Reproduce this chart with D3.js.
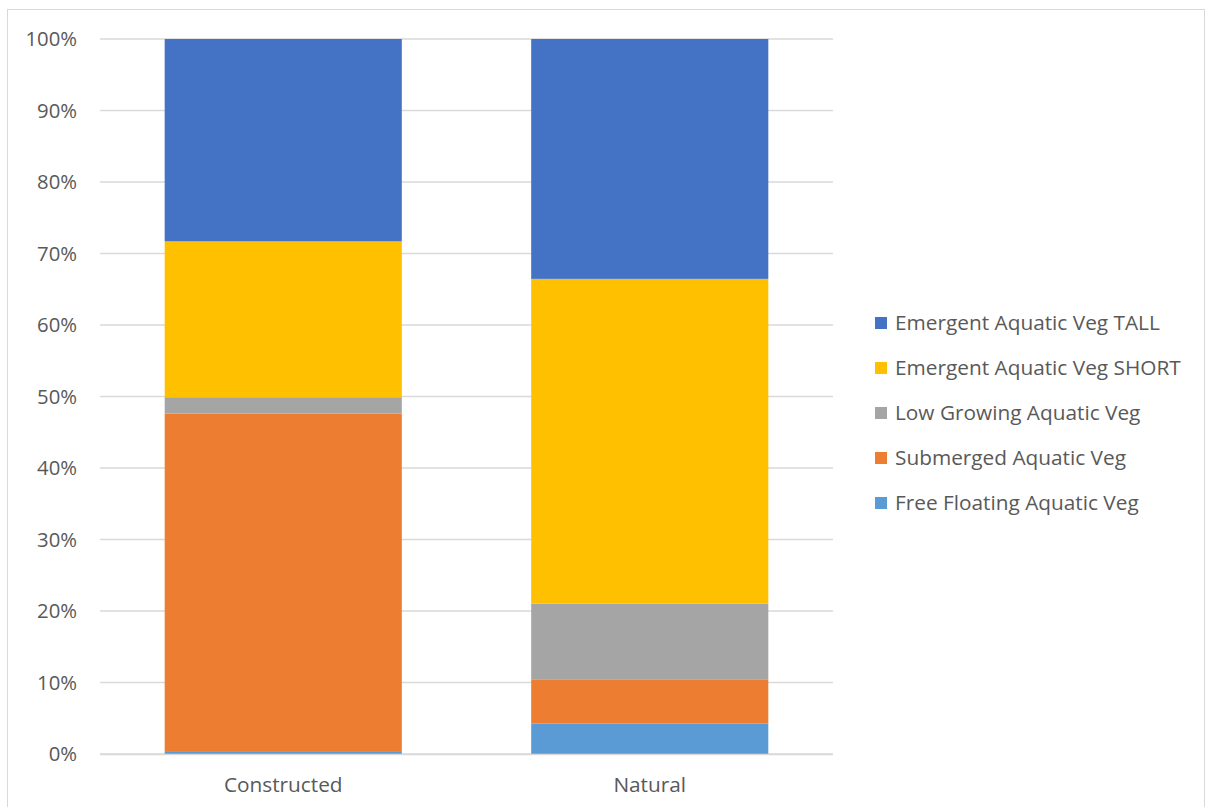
<!DOCTYPE html>
<html><head><meta charset="utf-8">
<script src="https://cdn.jsdelivr.net/npm/d3@7"></script>
<style>body{margin:0;background:#fff}svg{display:block}</style>
</head><body>
<script>
const categories = ["Constructed", "Natural"];
const seriesNames = ["Free Floating Aquatic Veg", "Submerged Aquatic Veg", "Low Growing Aquatic Veg", "Emergent Aquatic Veg SHORT", "Emergent Aquatic Veg TALL"];
const freeFloating = [0.4, 4.25];
const submerged = [47.2, 6.2];
const lowGrowing = [2.3, 10.6];
const emergentShort = [21.8, 45.4];
const emergentTall = [28.3, 33.55];
const colors = ["#5B9BD5", "#ED7D31", "#A5A5A5", "#FFC000", "#4472C4"];
const yTicks = [0, 10, 20, 30, 40, 50, 60, 70, 80, 90, 100];

const W = 1205, H = 807;
const font = "'Open Sans', 'Liberation Sans', sans-serif";
const textColor = "#595959";
const svg = d3.select("body").append("svg").attr("width", W).attr("height", H);
svg.append("rect").attr("x", 7.5).attr("y", 9.5).attr("width", W - 8).attr("height", H).attr("fill", "none").attr("stroke", "#d9d9d9");

const m = {l: 100, r: 833, t: 39, b: 754};
const allSeries = [freeFloating, submerged, lowGrowing, emergentShort, emergentTall];
const rows = categories.map((c, i) => { const o = {cat: c}; seriesNames.forEach((s, j) => o[s] = allSeries[j][i]); return o; });
const stacked = d3.stack().keys(seriesNames)(rows);

const x = d3.scaleBand().domain(categories).range([m.l, m.r]).paddingInner(0.353).paddingOuter(0.1765);
const y = d3.scaleLinear().domain([0, 100]).range([m.b, m.t]);

svg.append("g").selectAll("line").data(yTicks).join("line")
  .attr("x1", m.l).attr("x2", m.r).attr("y1", d => y(d)).attr("y2", d => y(d))
  .attr("stroke", "#d9d9d9").attr("stroke-width", 1.3);

svg.append("g").selectAll("text").data(yTicks).join("text")
  .attr("x", 77).attr("y", d => y(d)).attr("dy", "0.35em").attr("text-anchor", "end")
  .attr("font-family", font).attr("font-size", 20.3).attr("fill", textColor)
  .text(d => d + "%");

stacked.forEach((s, j) => {
  svg.append("g").selectAll("rect").data(s).join("rect")
    .attr("x", d => x(d.data.cat)).attr("width", x.bandwidth())
    .attr("y", d => y(d[1])).attr("height", d => y(d[0]) - y(d[1]))
    .attr("fill", colors[j]);
});

svg.append("line").attr("x1", m.l).attr("x2", m.r).attr("y1", m.b + 0.5).attr("y2", m.b + 0.5).attr("stroke", "#d9d9d9").attr("stroke-width", 1.3);

svg.append("g").selectAll("text").data(categories).join("text")
  .attr("x", d => x(d) + x.bandwidth() / 2).attr("y", 785).attr("dy", "0.35em").attr("text-anchor", "middle")
  .attr("font-family", font).attr("font-size", 20.8).attr("fill", textColor).text(d => d);

const legendOrder = [4, 3, 2, 1, 0];
const lg = svg.append("g");
legendOrder.forEach((j, k) => {
  const yy = 323 + k * 45;
  lg.append("rect").attr("x", 875).attr("y", yy - 6).attr("width", 12).attr("height", 12).attr("fill", colors[j]);
  lg.append("text").attr("x", 895).attr("y", yy).attr("dy", "0.35em").attr("font-family", font).attr("font-size", 20.8).attr("fill", textColor).text(seriesNames[j]);
});
</script>
</body></html>
